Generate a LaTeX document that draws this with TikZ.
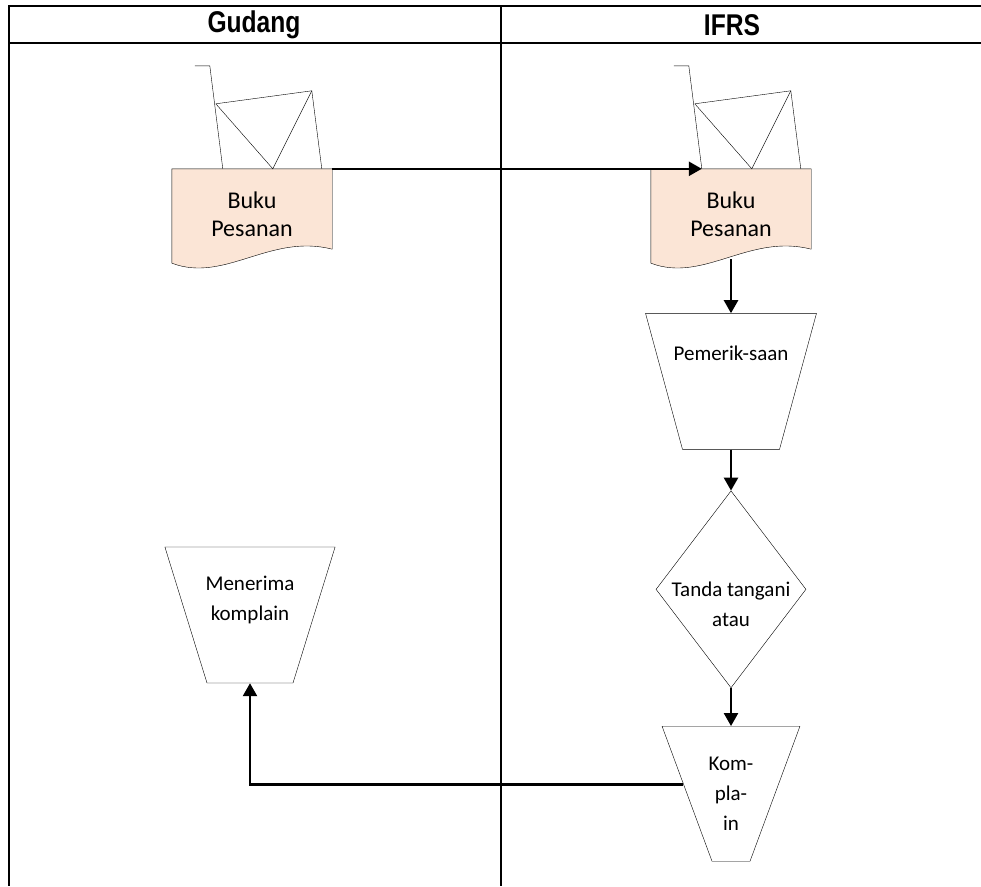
\documentclass[tikz,border=0pt]{standalone}
\usepackage{fontspec}
\setmainfont{Carlito}
\newfontfamily\sempit{Liberation Sans}[FakeStretch=0.82]
\usepackage{xcolor}
\usepackage{tikz}
\usetikzlibrary{calc, arrows.meta, shapes.geometric, backgrounds, positioning}
\definecolor{persik}{RGB}{251,229,214}
\tikzset{
	line width = 1.8pt,
	>={Triangle[length=13pt,width=14pt]},
	font = \fontsize{21}{30}\selectfont,
	garis/.style={
		line width=2.5pt
	},
	judul/.style={
		font=\fontsize{30}{30}\selectfont\sempit\bfseries
	},
	dokumen/.style={
		rectangle,
		minimum width=160pt,
		minimum height=90pt,
		inner sep=0pt,
		align=center,
		font=\fontsize{24}{28}\selectfont
	},
	proses/.style={
		trapezium,
		draw,
		shape border rotate=180
	},
	keputusan/.style={
		diamond,
		draw,
		minimum width=150pt,
		minimum height=197pt,
		inner sep=0pt
	},
	alur/.style={
		->,
		line width=2.5pt
	},
	arsip/.pic={
		\draw (23,-103) -- (38,-103) -- (51,0);
		\draw (44,-65) -- (140,-78) -- (150,0);
		\draw (44,-65) -- (101,0) -- (140,-78);
		\coordinate (-kaki) at (51,0);
	}
}

\begin{document}
\begin{tikzpicture}[x=1pt, y=-1pt]
	\useasboundingbox (0,0) rectangle (981,886);

	% tabel
	\draw[garis] (8,6) -- (981,6);
	\draw[garis] (8,43) -- (981,43);
	\draw[garis] (9,5) -- (9,886);
	\draw[garis] (501,5) -- (501,886);
	\node[judul] (gudang) at (254,25) {Gudang};
	\node[judul] (ifrs) at (732,25) {IFRS};

	\node[dokumen] (buku1) at (252,214) {Buku\\Pesanan};
	\node[dokumen] (buku2) at (731,214) {Buku\\Pesanan};
	\begin{scope}[on background layer]
		\foreach \d in {buku1, buku2}
			\draw[fill=persik] (\d.north west) -- (\d.north east) -- ($(\d.south east)+(0,-10)$)
				.. controls ($(\d.south)+(18,-26)$) and ($(\d.south)+(-27,24)$) .. ($(\d.south west)+(0,4)$) -- cycle;
	\end{scope}
	\pic (arsip1) at (buku1.north west) {arsip};
	\pic (arsip2) at (buku2.north west) {arsip};

	\node[proses, inner xsep=48.5pt, inner ysep=68pt, trapezium angle=74.8,
		below=54pt of buku2, label={[yshift=28pt]center:Pemerik-saan}] (pemeriksaan) {};
	\node[keputusan, below=41pt of pemeriksaan,
		label={[align=center, yshift=-15pt]center:Tanda tangani\\atau}] (tanda) {};
	\node[proses, inner xsep=19pt, inner ysep=67.5pt, trapezium angle=69.7,
		below=38pt of tanda, label={[align=center]center:Kom-\\pla-\\in}] (komplain) {};
	\node[proses, inner xsep=43pt, inner ysep=68pt, trapezium angle=72.8,
		label={[align=center, yshift=15pt]center:Menerima\\komplain}] (menerima) at (250,615) {};

	\draw[alur] (buku1.north east) -- (arsip2-kaki);
	\draw[alur] (buku2.south) -- (pemeriksaan.north);
	\draw[alur] (pemeriksaan.south) -- (tanda.north);
	\draw[alur] (tanda.south) -- (komplain.north);
	\draw[alur] (komplain.169) -| (menerima.south);
\end{tikzpicture}
\end{document}
